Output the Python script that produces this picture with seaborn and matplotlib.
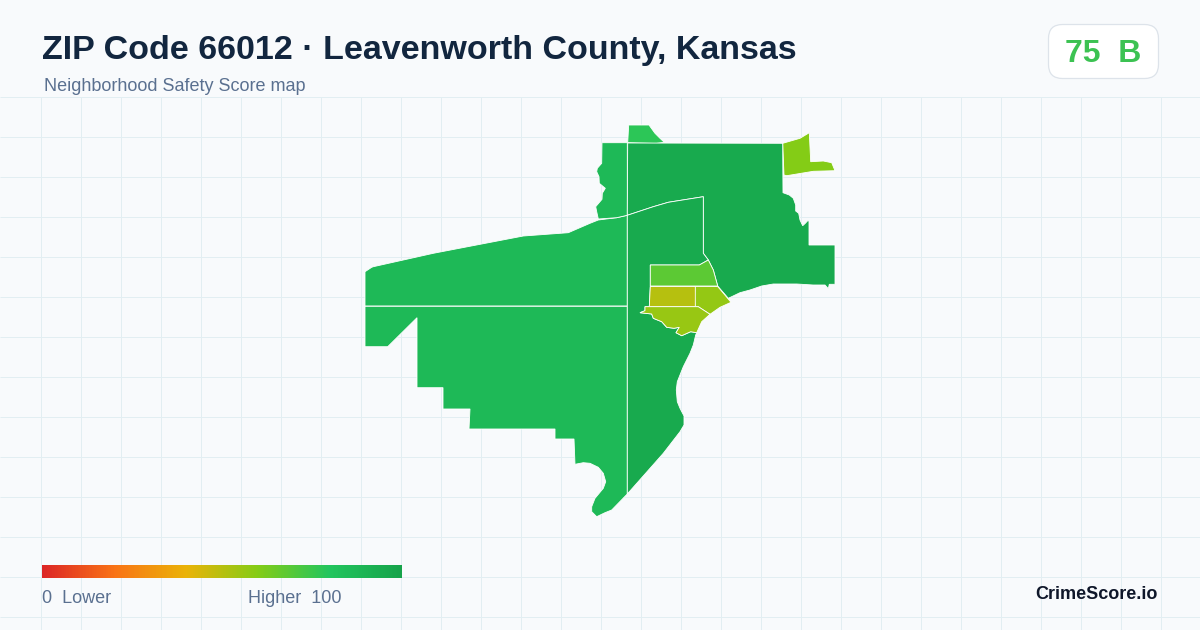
import matplotlib
matplotlib.use("Agg")
import matplotlib.pyplot as plt
import numpy as np
import seaborn as sns
from matplotlib.patches import FancyBboxPatch, Polygon

# colour ramp of the score scale
RAMP_COLORS = ["#dc2626", "#f97316", "#eab308", "#84cc16", "#22c55e", "#16a34a"]
SCORE_MIN = 0
SCORE_MAX = 100

TITLE = "ZIP Code 66012 · Leavenworth County, Kansas"
SUBTITLE = "Neighborhood Safety Score map"
BADGE = "75  B"
BRAND = "CrimeScore.io"

# neighbourhood scores, estimated from the fill colours
region_names = ["nw", "sw", "sliver", "north", "ne", "east", "central",
                "center_top", "center_left", "center_right", "center_bottom"]
region_scores = [87, 87, 87, 78, 60, 96, 96, 68, 50, 57, 56]

# outlines, in image pixels
nw = [(365, 271.7), (371.7, 267.3), (373.3, 266.7), (433.3, 253.3), (523.3, 236),
      (568.3, 232.7), (590, 223.3), (598.3, 220), (616.7, 217.7), (627.3, 215.3),
      (627.3, 306), (365, 306)]
sw = [(365, 306.3), (627.3, 306.3), (627.3, 494), (611.7, 510), (605, 512.7),
      (596.7, 516.7), (591.7, 511.7), (591.7, 506.7), (595, 498.3), (600, 492.3),
      (603.3, 488.3), (605.7, 481.7), (603.3, 473.3), (598.3, 467.3), (590, 463.3),
      (583.3, 462.7), (575, 464.3), (574, 439), (555, 439), (555, 429), (469, 429),
      (470, 409), (443, 409), (443, 387.7), (417, 387.7), (417, 317.7),
      (387.7, 346.7), (365, 346.7)]
sliver = [(602, 142.7), (627.3, 142.7), (627.3, 215.3), (616.7, 217.7), (598.3, 219),
          (596.7, 211.7), (595.7, 206.7), (602, 199.3), (602.3, 193.3), (605.3, 188.3),
          (599.3, 183.3), (599, 176.7), (596.7, 171.7), (597.3, 168.3), (601.7, 163.3)]
north = [(628.7, 125), (649, 125), (655, 133.3), (660, 138.3), (664.3, 142.3),
         (656, 143.5), (638, 143), (627.7, 142.7)]
ne = [(782.7, 143.3), (800, 138.3), (809.3, 132.7), (810.7, 161.7), (823.3, 161),
      (831.7, 162.7), (835, 170.7), (813.3, 171.3), (786.7, 175.7), (784, 175)]
east = [(627.7, 143), (782.7, 143.3), (783, 192.7), (789.3, 195), (793.3, 198.3),
        (795.7, 205), (795.7, 211), (798.7, 213.3), (800, 220), (802.7, 225.7),
        (805.3, 223.3), (807.7, 220.7), (809, 221), (809, 245), (835, 245), (835, 284.3),
        (829.3, 284.3), (828.3, 288.7), (825, 285), (813, 285), (796.7, 284),
        (773.3, 284), (761.7, 286), (750, 290), (740, 292.7), (728.3, 298.3),
        (717.7, 286), (713.3, 270), (708.3, 260), (703.3, 253.3), (703.3, 196.7),
        (668.3, 202.3), (653.3, 206.7), (627.3, 215.3)]
central = [(627.3, 215.3), (653.3, 206.7), (668.3, 202.3), (703.3, 196.7), (703.3, 253.3),
           (708.3, 260), (699.3, 265), (650.3, 265), (650.3, 286), (649.3, 306.7),
           (645, 306.7), (645, 310.7), (640, 312.7), (651.7, 314), (653.3, 318.3),
           (661.7, 321.7), (666.7, 327.3), (674, 328.3), (679.3, 327.3), (676, 332.7),
           (681.7, 335.7), (690.7, 331.7), (696.7, 332.7), (695.7, 335), (693.3, 345),
           (690, 353.3), (683.3, 366.7), (677.3, 381.7), (676.3, 390), (677.3, 401.7),
           (680, 408.3), (684, 416), (684, 425), (680, 431.7), (663.3, 453.3), (627.3, 494)]
center_top = [(650.3, 265), (699.3, 265), (708.3, 260), (713.3, 270), (717.7, 286), (650.3, 286)]
center_left = [(650.3, 286.5), (695.3, 286.5), (696.3, 296.7), (695.3, 306.7), (649.3, 306.7)]
center_right = [(695.3, 286.5), (717.7, 286.5), (731, 302.3), (720, 307.3), (710, 314.3),
                (698.3, 306.7), (695.3, 306.7)]
center_bottom = [(645, 306.7), (698.3, 306.7), (710, 314.3), (701.7, 321.7), (696.7, 332.7),
                 (690.7, 331.7), (681.7, 335.7), (676, 332.7), (679.3, 327.3), (674, 328.3),
                 (666.7, 327.3), (661.7, 321.7), (653.3, 318.3), (651.7, 314), (640, 312.7),
                 (645, 310.7)]
region_outlines = [nw, sw, sliver, north, ne, east, central,
                   center_top, center_left, center_right, center_bottom]

sns.set_theme(style="white")
plt.rcParams["font.family"] = ["Liberation Sans", "DejaVu Sans"]

cmap = sns.blend_palette(RAMP_COLORS, as_cmap=True)


def px(size):
    # font size in image pixels -> points at dpi 100
    return size * 0.72


fig = plt.figure(figsize=(12, 6.3), dpi=100, facecolor="#f8fafc")
ax = fig.add_axes([0, 0, 1, 1])
ax.set_xlim(0, 1200)
ax.set_ylim(630, 0)
ax.axis("off")

# background grid, starts under the header
ax.vlines(np.arange(40.5, 1200, 40), 96.5, 630, color="#e2eef2", lw=0.72, zorder=1)
ax.hlines(np.arange(97, 630, 40), 0, 1200, color="#e2eef2", lw=0.72, zorder=1)

for name, score, outline in zip(region_names, region_scores, region_outlines):
    color = cmap((score - SCORE_MIN) / (SCORE_MAX - SCORE_MIN))
    ax.add_patch(Polygon(outline, closed=True, facecolor=color, edgecolor="white",
                         lw=0.6, zorder=2, label=name))

# header
ax.text(42, 59, TITLE, fontsize=px(34), fontweight="bold", color="#12263f", va="baseline")
ax.text(44, 91, SUBTITLE, fontsize=px(18), color="#5a7090", va="baseline")

# score badge
ax.add_patch(FancyBboxPatch((1048.5, 24.5), 110, 54, boxstyle="round,pad=0,rounding_size=14",
                            facecolor="white", edgecolor="#dde3ea", lw=0.9, zorder=3))
ax.text(1103, 62, BADGE, fontsize=px(32), fontweight="bold", color="#3cc252",
        ha="center", va="baseline", zorder=4)

# legend ramp
cax = fig.add_axes([42 / 1200, 1 - 578 / 630, 360 / 1200, 13 / 630])
ramp = np.linspace(SCORE_MIN, SCORE_MAX, 360).reshape(1, -1)
sns.heatmap(ramp, ax=cax, cmap=cmap, vmin=SCORE_MIN, vmax=SCORE_MAX, cbar=False,
            xticklabels=False, yticklabels=False, linewidths=0, rasterized=True)
cax.set_xlabel("")
cax.set_ylabel("")

ax.text(42, 603, "0  Lower", fontsize=px(18), color="#5a7090", va="baseline")
ax.text(342, 603, "Higher  100", fontsize=px(18), color="#5a7090", ha="right", va="baseline")
ax.text(1158, 599, BRAND, fontsize=px(18), fontweight="bold", color="#0f172a",
        ha="right", va="baseline")

fig.savefig("out.png", dpi=100, facecolor=fig.get_facecolor())
plt.close(fig)
